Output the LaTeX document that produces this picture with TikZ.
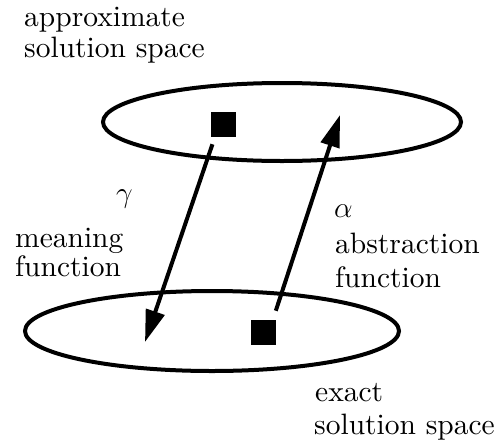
\RequirePackage{fix-cm}
\documentclass[tikz,border=0pt]{standalone}
\usepackage{fontspec}
\setmainfont{lmroman10-regular}[Extension=.otf]
\usetikzlibrary{shapes.geometric,arrows.meta}
\begin{document}
\begin{tikzpicture}[x=1pt,y=-1pt,
  lbl/.style={anchor=base west,inner sep=0pt,font=\fontsize{29.5}{34}\selectfont},
  space/.style={ellipse,draw,line width=4pt,inner sep=0pt},
  elem/.style={fill=black,minimum size=25pt,inner sep=0pt},
  arr/.style={line width=4pt,-{Triangle[length=32pt,width=19pt]}}]
\useasboundingbox (0,0) rectangle (495,445);
\node[space,minimum width=358pt,minimum height=78pt] (top) at (282,122) {};
\node[space,minimum width=374pt,minimum height=80pt] (bot) at (212,331) {};
\node[elem] (ts) at (223,124) {};
\node[elem] (bs) at (263,332) {};
\coordinate (gtip) at (145,342);
\coordinate (atip) at (340,115);
\draw[arr,shorten <=8pt] ([xshift=-8pt]ts.south) -- (gtip);
\draw[arr,shorten <=9pt] ([xshift=10pt]bs.north) -- (atip);
\node[lbl] (a1) at (24,26) {approximate};
\node[lbl] (a2) at (24,57) {solution space};
\node[lbl] (g) at (116,202) {$\gamma$};
\node[lbl] (m1) at (15,247) {meaning};
\node[lbl] (m2) at (15,276) {function};
\node[lbl] (al) at (334,217) {$\alpha$};
\node[lbl] (b1) at (335,253) {abstraction};
\node[lbl] (b2) at (335,287) {function};
\node[lbl] (e1) at (315,401) {exact};
\node[lbl] (e2) at (314,434) {solution space};
\end{tikzpicture}
\end{document}
